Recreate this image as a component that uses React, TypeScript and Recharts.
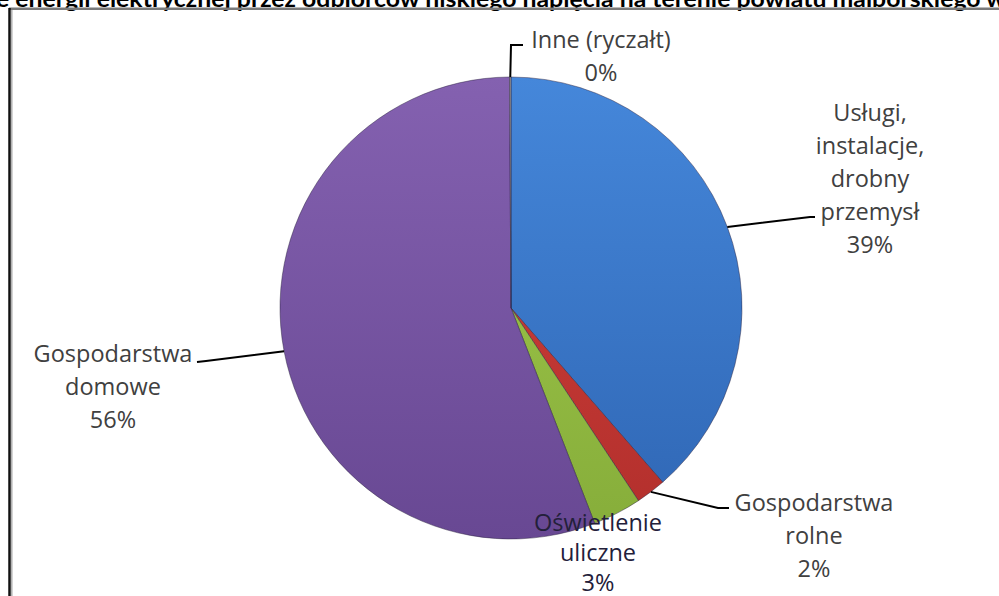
import { PieChart, Pie, Cell } from "recharts"

// Zużycie energii wg grup odbiorców (udział w %)
const categories = [
  "Usługi,\ninstalacje,\ndrobny\nprzemysł",
  "Gospodarstwa\nrolne",
  "Oświetlenie\nuliczne",
  "Gospodarstwa\ndomowe",
  "Inne (ryczałt)",
]
const shares = [38.6, 2.1, 3.4, 55.8, 0.1]
const titleText =
  "e energii elektrycznej przez odbiorców niskiego napięcia na terenie powiatu malborskiego w"

// light / dark stops of each slice gradient
const sliceTop = ["#4587da", "#d4423c", "#a3cc4d", "#8461b0", "#a0a0a0"]
const sliceBottom = ["#2f66b4", "#b22f2c", "#86ad3a", "#684893", "#808080"]

const W = 999
const H = 596
const CX = 511
const CY = 308
const R = 231
const RAD = Math.PI / 180

// where each label's text sits and how its leader line bends
const labelLayout = [
  { x: 870, y: 112, lh: 33, leader: [[810, 217], [815, 217]] },
  { x: 814, y: 502, lh: 33, leader: [[718, 508], [729, 508]] },
  { x: 598, y: 522, lh: 30, leader: null, dark: true },
  { x: 113, y: 353, lh: 33, leader: [[206, 361], [197, 362]] },
  { x: 601, y: 39, lh: 33, leader: [[511, 45], [523, 45]] },
]

const data = categories.map((name, i) => ({ name, value: shares[i] }))

const fontFamily = "'Open Sans', Lato, sans-serif"

function renderLabel(props: any) {
  const { cx, cy, midAngle, outerRadius, percent, index } = props
  const layout = labelLayout[index]
  const lines = [...categories[index].split("\n"), `${Math.round(percent * 100)}%`]
  const sx = cx + outerRadius * Math.cos(-midAngle * RAD)
  const sy = cy + outerRadius * Math.sin(-midAngle * RAD)
  return (
    <g key={`label-${index}`}>
      {layout.leader && (
        <polyline
          points={[[sx, sy], ...layout.leader].map((p) => p.join(",")).join(" ")}
          fill="none"
          stroke="#000"
          strokeWidth={2}
        />
      )}
      <text
        x={layout.x}
        y={layout.y}
        textAnchor="middle"
        fontFamily={fontFamily}
        fontSize={23.5}
        fill={layout.dark ? "#23203a" : "#404040"}
      >
        {lines.map((line, i) => (
          <tspan key={i} x={layout.x} y={layout.y + i * layout.lh} dominantBaseline="central">
            {line}
          </tspan>
        ))}
      </text>
    </g>
  )
}

export default function App() {
  return (
    <div style={{ position: "absolute", left: 0, top: 0, width: W, height: H, overflow: "hidden", background: "#fff" }}>
      <svg width={W} height={H} style={{ position: "absolute", left: 0, top: 0 }}>
        <text
          x={-4}
          y={7}
          fontFamily="Lato, sans-serif"
          fontWeight="bold"
          fontSize={23}
          fill="#000"
          textLength={1010}
          lengthAdjust="spacingAndGlyphs"
        >
          {titleText}
        </text>
        <line x1={9} y1={8.8} x2={W} y2={8.8} stroke="#7a7a7a" strokeWidth={2.5} />
        <line x1={11.8} y1={10} x2={11.8} y2={H} stroke="#b0b0b0" strokeWidth={1.5} />
        <line x1={9.5} y1={8} x2={9.5} y2={H} stroke="#111" strokeWidth={2.5} />
      </svg>
      <div style={{ position: "absolute", left: 0, top: 0 }}>
        <PieChart width={W} height={H} margin={{ top: 0, right: 0, bottom: 0, left: 0 }}>
          <defs>
            {sliceTop.map((c, i) => (
              <linearGradient key={i} id={`slice-${i}`} gradientUnits="userSpaceOnUse" x1={0} y1={CY - R} x2={0} y2={CY + R}>
                <stop offset="0%" stopColor={c} />
                <stop offset="100%" stopColor={sliceBottom[i]} />
              </linearGradient>
            ))}
          </defs>
          <Pie
            data={data}
            dataKey="value"
            nameKey="name"
            cx={CX}
            cy={CY}
            outerRadius={R}
            startAngle={90}
            endAngle={-270}
            stroke="rgba(40,30,60,0.45)"
            strokeWidth={1}
            label={renderLabel}
            labelLine={false}
            isAnimationActive={false}
          >
            {data.map((_, i) => (
              <Cell key={`cell-${i}`} fill={`url(#slice-${i})`} />
            ))}
          </Pie>
        </PieChart>
      </div>
    </div>
  )
}
